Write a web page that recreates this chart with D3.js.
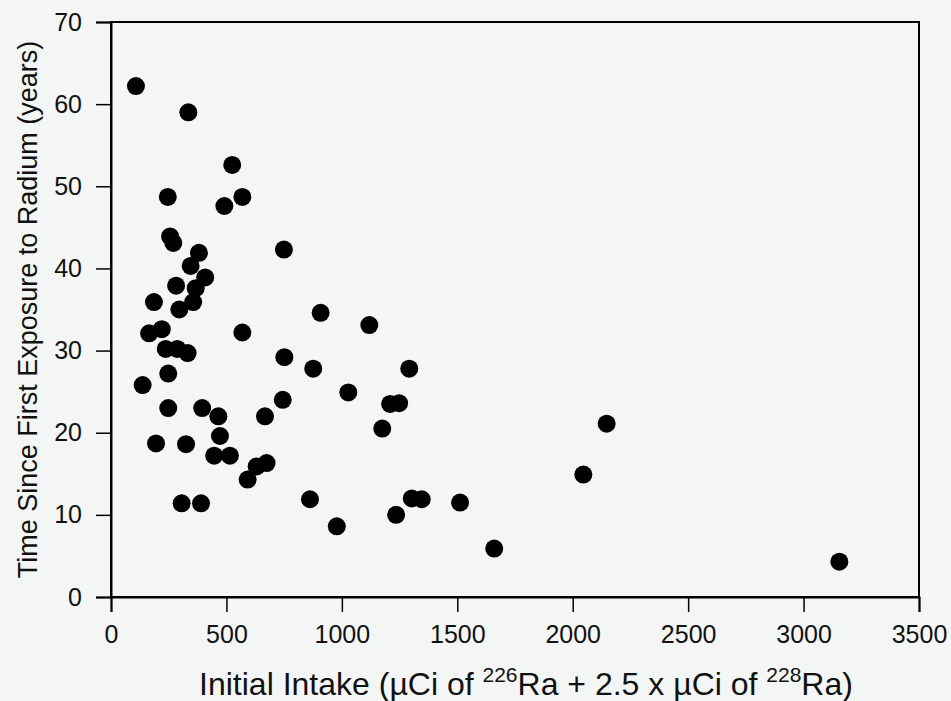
<!DOCTYPE html>
<html>
<head>
<meta charset="utf-8">
<script src="https://cdn.jsdelivr.net/npm/d3@7"></script>
<style>
  html, body { margin: 0; padding: 0; background: #f4f6f5; }
  svg { display: block; }
  text { font-family: "Liberation Sans", Arial, Helvetica, sans-serif; fill: #111; }
</style>
</head>
<body>
<div id="chart"></div>
<script>
// Initial intake (µCi) and time since first exposure (years)
const intake = [108, 335, 525, 246, 569, 491, 256, 270, 381, 749,
  345, 408, 282, 367, 356, 186, 296, 165, 220, 569,
  237, 287, 332, 751, 248, 137, 744, 248, 395, 465,
  667, 472, 195, 325, 447, 515, 631, 674, 592, 306,
  390, 908, 1119, 876, 1292, 1028, 1209, 1248, 1175, 862,
  1303, 1346, 1512, 1235, 978, 2147, 2046, 1660, 3155];
const years = [62.2, 59.0, 52.6, 48.7, 48.7, 47.6, 43.9, 43.1, 41.9, 42.3,
  40.3, 38.9, 37.9, 37.6, 35.9, 35.9, 35.0, 32.1, 32.6, 32.2,
  30.2, 30.2, 29.7, 29.2, 27.2, 25.8, 24.0, 23.0, 23.0, 22.0,
  22.0, 19.6, 18.7, 18.6, 17.2, 17.2, 15.9, 16.3, 14.3, 11.4,
  11.4, 34.6, 33.1, 27.8, 27.8, 24.9, 23.5, 23.6, 20.5, 11.9,
  12.0, 11.9, 11.5, 10.0, 8.6, 21.1, 14.9, 5.9, 4.3];
const xTicks = [0, 500, 1000, 1500, 2000, 2500, 3000, 3500];
const yTicks = [0, 10, 20, 30, 40, 50, 60, 70];

const data = intake.map((v, i) => ({ x: v, y: years[i] }));

const margin = { top: 22, right: 32, bottom: 104, left: 111 };
const width = 951 - margin.left - margin.right;
const height = 701 - margin.top - margin.bottom;

const svg = d3.select("#chart")
    .append("svg")
    .attr("width", 951)
    .attr("height", 701)
    .append("g")
    .attr("transform", `translate(${margin.left},${margin.top})`);

const x = d3.scaleLinear().domain([0, 3500]).range([0, width]);
const y = d3.scaleLinear().domain([0, 70]).range([height, 0]);

// Frame round the plot
svg.append("rect")
    .attr("width", width)
    .attr("height", height)
    .attr("fill", "none")
    .attr("stroke", "#000")
    .attr("stroke-width", 2);

const xAxis = svg.append("g")
    .attr("transform", `translate(0,${height})`)
    .call(d3.axisBottom(x).tickValues(xTicks).tickSize(15).tickPadding(13).tickFormat(d3.format("d")));

const yAxis = svg.append("g")
    .call(d3.axisLeft(y).tickValues(yTicks).tickSize(15).tickPadding(14));

[xAxis, yAxis].forEach(g => {
    g.select(".domain").attr("stroke", "#000").attr("stroke-width", 2);
    g.selectAll(".tick line").attr("stroke", "#000").attr("stroke-width", 1.5);
    g.selectAll(".tick text")
        .style("font-size", "25px")
        .style("font-family", "'Liberation Sans', Arial, sans-serif")
        .attr("fill", "#111");
});

// Points
svg.selectAll(".dot")
    .data(data)
    .enter().append("circle")
    .attr("class", "dot")
    .attr("cx", d => x(d.x))
    .attr("cy", d => y(d.y))
    .attr("r", 9)
    .attr("fill", "#000");

// Axis titles
svg.append("text")
    .attr("x", -height / 2)
    .attr("y", -74)
    .attr("transform", "rotate(-90)")
    .attr("text-anchor", "middle")
    .style("font-size", "27px")
    .text("Time Since First Exposure to Radium (years)");

const xt = svg.append("text")
    .attr("x", width / 2 + 11)
    .attr("y", height + 98)
    .attr("text-anchor", "middle")
    .style("font-size", "32px");
xt.append("tspan").text("Initial Intake (µCi of ");
xt.append("tspan").attr("dy", -13).style("font-size", "21px").text("226");
xt.append("tspan").attr("dy", 13).text("Ra + 2.5 x µCi of ");
xt.append("tspan").attr("dy", -13).style("font-size", "21px").text("228");
xt.append("tspan").attr("dy", 13).text("Ra)");
</script>
</body>
</html>
